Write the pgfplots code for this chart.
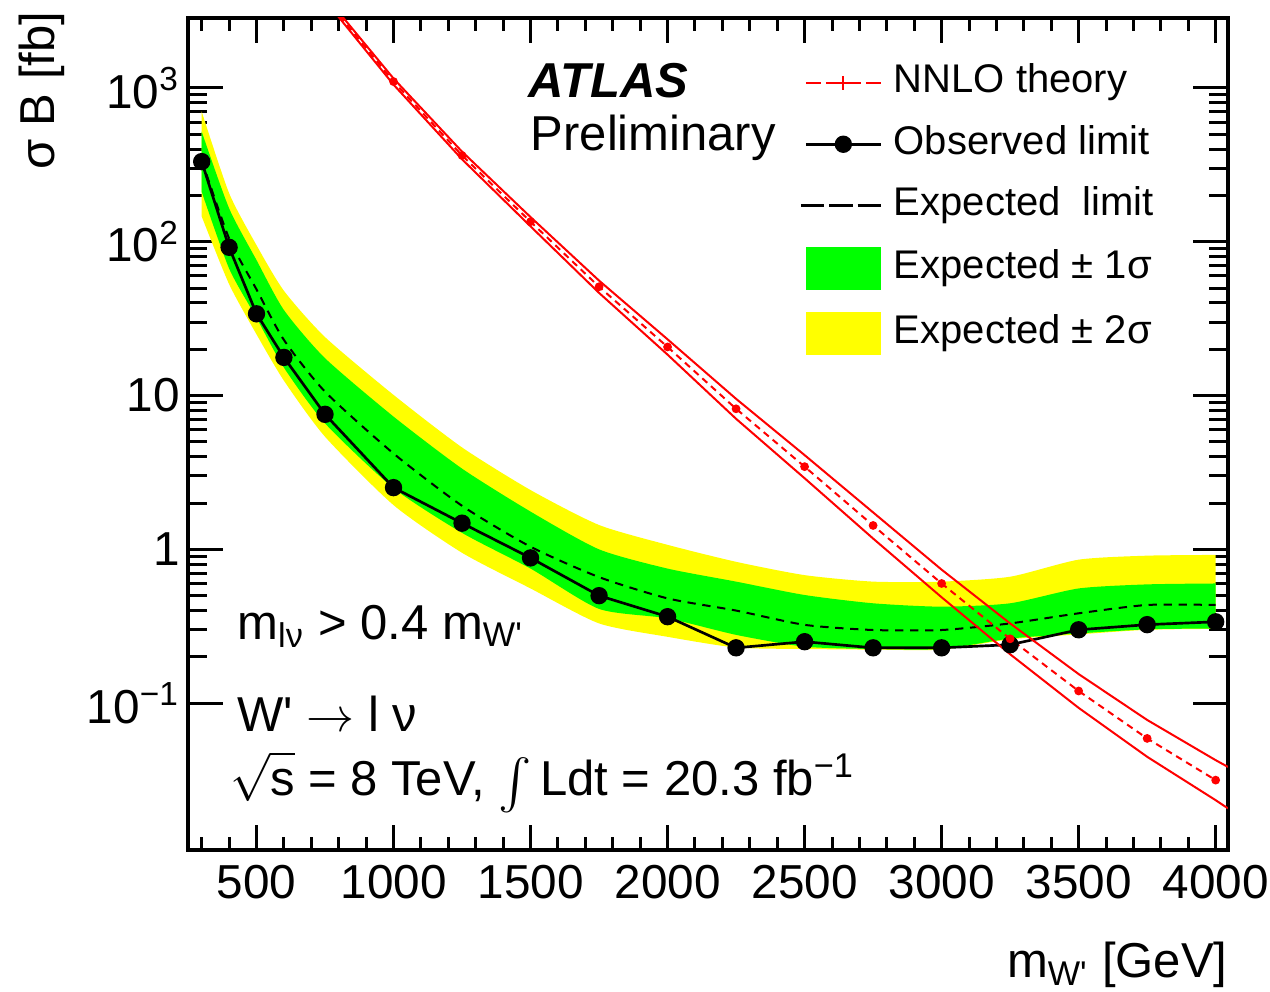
\documentclass[border=0pt]{standalone}
\usepackage{fontspec}
\setmainfont{Liberation Sans}
\usepackage{graphicx}
\usepackage{pgfplots}
\usepackage{pgfplotstable}
\pgfplotsset{compat=1.18}
\usepgfplotslibrary{fillbetween}

\definecolor{bandgreen}{RGB}{0,255,0}
\definecolor{bandyellow}{RGB}{255,255,0}
\definecolor{thred}{RGB}{255,0,0}

\pgfplotsset{
  lineleg/.style={legend image code/.code={\draw[mark repeat=2,mark phase=2,##1] plot coordinates {(0pt,0pt) (11.25pt,0pt) (22.5pt,0pt)};}},
  dashleg/.style={legend image code/.code={\draw[##1] (-1.5pt,0pt) -- (22.5pt,0pt);}},
  boxleg/.style={legend image code/.code={\fill[##1] (0pt,-6.5pt) rectangle (22.5pt,6.5pt);}},
}
\newcommand{\pr}{\textquotesingle}

% limits in fb: observed, expected, -2s, -1s, +1s, +2s
\pgfplotstableread{
mass obs exp m2 m1 p1 p2
300 332 340 146 211 520 702
400 92 105 53 67 165 207
500 34 49 25 32 76 95
600 17.7 23 12.5 15.2 36 48
750 7.55 10.6 5.4 6.6 17.5 24
1000 2.52 4.2 1.94 2.5 7.3 10.1
1250 1.48 1.92 0.95 1.28 3.35 4.6
1500 0.88 1.04 0.557 0.75 1.76 2.43
1750 0.50 0.66 0.33 0.41 1.0 1.44
2000 0.365 0.48 0.27 0.356 0.75 1.07
2250 0.229 0.40 0.23 0.278 0.617 0.83
2500 0.251 0.323 0.225 0.233 0.505 0.68
2750 0.229 0.299 0.223 0.225 0.446 0.617
3000 0.229 0.299 0.223 0.225 0.424 0.617
3250 0.24 0.33 0.26 0.263 0.446 0.664
3500 0.30 0.384 0.28 0.284 0.557 0.857
3750 0.324 0.435 0.30 0.302 0.592 0.91
4000 0.338 0.435 0.304 0.306 0.60 0.92
}\limtab

% NNLO theory with its band
\pgfplotstableread{
mass xs up dn
750 3850 3985 3720
1000 1100 1152 1051
1250 364 385.5 343.7
1500 135 144.7 125.9
1750 51 55.9 46.5
2000 20.7 23.2 18.45
2250 8.2 9.52 7.06
2500 3.45 4.10 2.90
2750 1.43 1.739 1.176
3000 0.60 0.738 0.488
3250 0.262 0.330 0.208
3500 0.12 0.1546 0.0932
3750 0.059 0.0778 0.0448
4000 0.0316 0.0426 0.0234
4045 0.0282 0.0385 0.0207
}\thtab

\begin{document}
\begin{tikzpicture}
\begin{axis}[
  at={(0,0)}, anchor=south west,
  scale only axis, width=312pt, height=249.6pt,
  xmin=250, xmax=4045,
  ymode=log, ymin=0.0111, ymax=2850,
  xtick={500,1000,...,4000},
  xticklabels={500,1000,1500,2000,2500,3000,3500,4000},
  minor xtick={300,400,...,4000},
  ytick={0.1,1,10,100,1000},
  yticklabels={10\textsuperscript{−1},1,10,10\textsuperscript{2},10\textsuperscript{3}},
  tick label style={font=\fontsize{14.3}{16}\selectfont},
  xticklabel style={yshift=-1pt},
  yticklabel style={xshift=1pt},
  axis line style={line width=1.2pt},
  every tick/.style={black, line width=0.9pt},
  major tick length=7.5pt, minor tick length=3.8pt,
  ytick style={/pgfplots/major tick length=10.5pt, /pgfplots/minor tick length=5.6pt},
  xlabel={m\textsubscript{W\pr} [GeV]},
  ylabel={σ B [fb]},
  label style={font=\fontsize{14.7}{17}\selectfont},
  xlabel style={at={(axis description cs:1,-0.1538)}, anchor=base east, inner sep=0pt},
  ylabel style={at={(axis description cs:-0.1279,1.0084)}, anchor=base east, inner sep=0pt},
  legend style={at={(rel axis cs:0.588,0.946)}, anchor=north west, draw=none, fill=none,
    inner sep=0pt, outer sep=0pt, row sep=6.4pt, column sep=3.5pt,
    font=\fontsize{12}{14}\selectfont,
    nodes={inner sep=0pt, text height=9pt, text depth=3pt}},
  legend cell align=left,
]
% expected bands
\addplot[name path=p2, draw=none, smooth, tension=0.4, forget plot] table[x=mass,y=p2]{\limtab};
\addplot[name path=m2, draw=none, smooth, tension=0.4, forget plot] table[x=mass,y=m2]{\limtab};
\addplot[fill=bandyellow, draw=none, forget plot] fill between[of=p2 and m2];
\addplot[name path=p1, draw=none, smooth, tension=0.4, forget plot] table[x=mass,y=p1]{\limtab};
\addplot[name path=m1, draw=none, smooth, tension=0.4, forget plot] table[x=mass,y=m1]{\limtab};
\addplot[fill=bandgreen, draw=none, forget plot] fill between[of=p1 and m1];
% expected and observed
\addplot[black, line width=0.6pt, dash pattern=on 2.5pt off 2pt, smooth, tension=0.4, forget plot]
  table[x=mass,y=exp]{\limtab};
\addplot[black, line width=0.8pt, mark=*, mark size=2.2pt, forget plot]
  table[x=mass,y=obs]{\limtab};
% theory
\addplot[thred, line width=0.6pt, forget plot] table[x=mass,y=up]{\thtab};
\addplot[thred, line width=0.6pt, forget plot] table[x=mass,y=dn]{\thtab};
\addplot[thred, line width=0.6pt, dash pattern=on 2pt off 1.5pt, mark=*, mark size=1pt,
  mark options={solid}, restrict x to domain=700:4010, forget plot]
  table[x=mass,y=xs]{\thtab};

\addlegendimage{lineleg, thred, line width=0.6pt, dash pattern=on 4.5pt off 1.5pt, mark=+, mark size=2pt, mark options={solid}}
\addlegendentry{NNLO theory}
\addlegendimage{lineleg, black, line width=0.8pt, mark=*, mark size=2.2pt}
\addlegendentry{Observed limit}
\addlegendimage{dashleg, black, line width=0.8pt, dash pattern=on 7pt off 1.5pt}
\addlegendentry{Expected~~limit}
\addlegendimage{boxleg, fill=bandgreen, draw=none}
\addlegendentry{Expected ± 1σ}
\addlegendimage{boxleg, fill=bandyellow, draw=none}
\addlegendentry{Expected ± 2σ}

\node[anchor=base west, inner sep=0pt, font=\fontsize{14.7}{17}\selectfont\bfseries\itshape]
  at (rel axis cs:0.327,0.905) {ATLAS};
\node[anchor=base west, inner sep=0pt, font=\fontsize{14.7}{17}\selectfont]
  at (rel axis cs:0.329,0.841) {Preliminary};
\node[anchor=base west, inner sep=0pt, font=\fontsize{14.7}{17}\selectfont]
  at (rel axis cs:0.0468,0.2536) {m\textsubscript{lν} > 0.4 m\textsubscript{W\pr}};
\node[anchor=base west, inner sep=0pt, font=\fontsize{14.7}{17}\selectfont]
  at (rel axis cs:0.0468,0.142) {W\pr\ $\rightarrow$ l ν};
\node[anchor=base west, inner sep=0pt, font=\fontsize{14.7}{17}\selectfont]
  at (rel axis cs:0.040,0.066) {$\sqrt{\vphantom{T}\mbox{s}}$ = 8 TeV, \raisebox{-0.3ex}{\scalebox{1.5}{$\int$}}\,Ldt = 20.3 fb\textsuperscript{−1}};
\end{axis}
\pgfresetboundingbox
\useasboundingbox (-56.4pt,-42.6pt) rectangle (324.6pt,255pt);
\end{tikzpicture}
\end{document}
